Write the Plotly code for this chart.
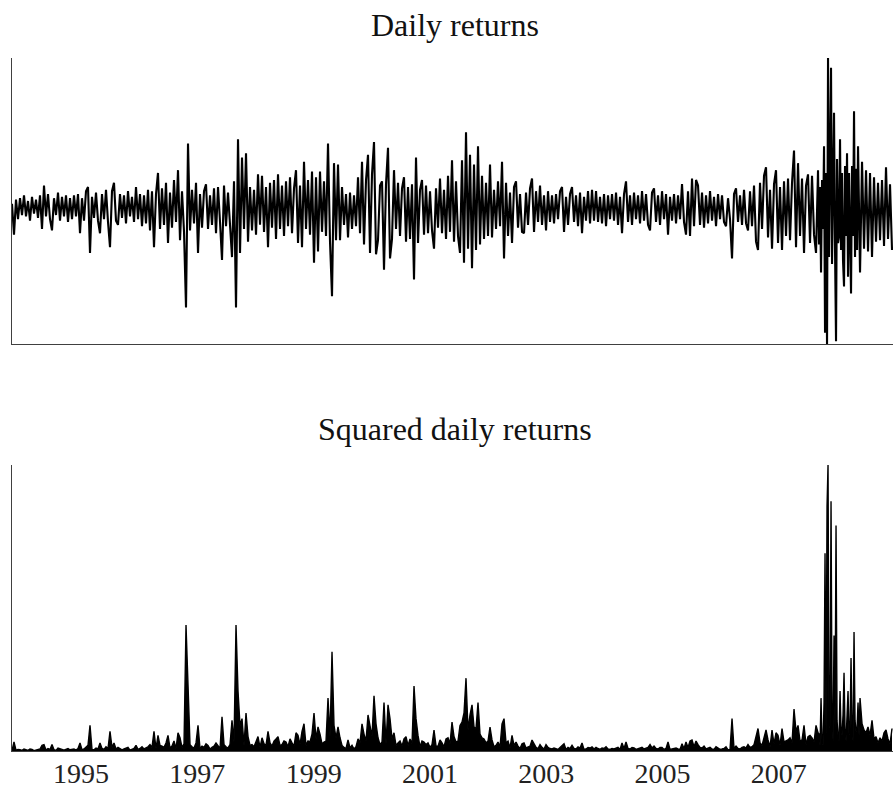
import numpy as np
import plotly.graph_objects as go

# Daily returns (%), in consecutive blocks along the time axis
returns_a = [0.3, -1.9, 0.6, -0.8, 0.7, -0.5, 0.9, -0.6, 0.5, -0.9, 0.8, -0.4, 0.6, -0.7, 0.9,
             -1.5, 1.6, -0.6, 1.0, -0.8, -1.6, 0.7, -0.5, 1.1, -0.9, 0.8, -0.6, 0.9, -1.0, 0.7]
returns_b = [-0.8, 0.9, -0.6, 1.0, -1.8, 0.7, -0.9, 1.2, 1.5, -3.2, 0.8, -0.7, 1.1, -0.9, -1.8,
             1.0, -0.8, 1.3, -1.0, -2.8, 1.2, 1.8, -0.9, -1.2, 1.0, -0.7, 0.9, -1.1, 1.2, -0.6]
returns_c = [0.8, -1.0, 1.5, -0.8, 1.0, -1.3, 0.9, -1.1, 1.3, -1.6, 1.2, -2.8, 1.0, 2.5, -1.5,
             1.4, -1.2, 1.8, -2.5, 1.1, -1.4, 2.0, -1.0, 2.7, -2.3, 1.2, -1.7, -7.1, 4.6, -1.6]
returns_d = [1.3, -1.1, 1.8, -3.2, 1.0, -1.4, 1.2, 1.7, -1.5, 0.9, -1.2, 1.4, -1.8, 1.5, -1.0,
             -3.7, 1.6, -1.3, 1.1, -1.6, -3.5, 1.9, -7.1, 4.9, -3.2, 3.6, -1.5, 3.9, -2.4, 1.5]
returns_e = [-1.6, 1.3, -1.9, 2.4, -1.2, 2.3, -1.7, 1.5, -2.8, 1.8, -1.4, 2.0, -2.2, 2.4, -1.5,
             1.6, -2.0, 1.9, -1.3, 2.2, -1.8, 1.4, 2.7, -2.5, 1.6, -2.8, 3.3, -1.5, 2.0, -1.9]
returns_f = [2.6, -3.9, 2.2, -3.1, 2.6, -1.7, 1.9, -2.0, 4.6, -2.4, -6.3, 3.2, -2.3, 3.1, -2.3,
             1.5, -1.2, 1.0, -2.1, 1.1, -1.5, 0.9, -1.3, 2.2, -1.8, 3.3, -2.6, 2.0, 3.8, -3.2]
returns_g = [2.4, 4.7, -3.3, -2.3, 1.6, 1.9, -4.4, 1.7, 4.3, -3.6, -2.2, 2.7, -1.5, 1.8, -2.0,
             1.4, 2.2, -2.4, 1.5, -2.2, 1.7, -5.1, 3.6, -2.5, 1.3, 2.0, -1.9, 1.6, -1.8, 1.2]
returns_h = [-1.6, -2.9, 1.4, -1.4, 2.1, -1.8, 1.3, -2.2, 2.3, -1.7, 3.4, -2.4, 1.9, -2.0, -3.2,
             3.4, -3.9, 5.4, -2.9, 3.8, -4.3, 3.1, -3.0, 4.4, -2.6, 2.3, -2.2, 1.8, -2.0, 3.1]
returns_i = [-2.1, 1.3, -1.5, 1.9, -1.3, 3.3, -3.6, 1.8, -2.0, 1.1, -2.5, 1.5, 1.9, -1.4, 1.0,
             -1.7, -1.8, 1.1, -1.2, 1.4, 2.1, -1.7, 1.2, -1.0, 1.6, -1.2, 0.9, -1.6, 1.2, -1.0]
returns_j = [0.9, -1.1, 1.0, -0.8, 1.2, 1.5, -1.7, 0.8, -1.2, 1.0, 1.5, -1.0, 0.9, -1.3, 1.1,
             -1.8, 0.8, -0.9, 1.2, -1.1, 1.3, -0.9, 1.2, -1.0, 0.8, -1.1, 1.0, -1.3, 0.9, -0.8]
returns_k = [1.0, -0.9, 1.1, -1.2, 0.8, -1.8, 1.0, 1.9, -1.0, 0.9, -1.2, 1.1, -0.8, 0.9, -1.1,
             1.2, -0.9, 1.0, -1.2, -1.6, 1.1, 1.4, -1.0, 0.9, -1.2, 1.2, -0.8, 1.0, -1.9, 0.8]
returns_l = [-0.9, 1.0, -1.1, 0.9, -0.8, 1.7, -1.0, -1.9, 1.2, -2.0, 2.1, -1.3, 2.0, 1.6, -1.2,
             1.1, -1.4, 0.9, -1.1, 1.2, -0.9, 0.8, -1.3, 1.0, -0.8, 0.9, -1.0, -1.3, 0.7, -0.8]
returns_m = [-3.6, 1.0, 1.4, -1.0, 0.9, -1.2, 1.3, -1.1, -1.6, 1.2, -1.3, 1.6, -2.4, -3.0, 1.8,
             -1.5, 2.3, 2.9, -2.1, 1.3, -2.9, 1.7, 2.7, -2.5, 1.5, -3.0, 1.9, -2.0, 2.1, -2.3]
returns_n = [1.8, 4.1, -2.8, 3.2, -2.0, 2.1, -3.2, 1.6, 2.4, -2.5, 2.3, -1.9, -3.2, 2.7]
# the 2008 crash, sampled more finely
returns_crash = [-2.6, 1.5, -4.6, 2.0, -1.5, 4.4, -8.9, 2.5, -9.9, 10.7, -3.5, 3.0, 10.0, -4.0,
                 2.0, 6.8, -3.0, -9.5, 3.5, -2.5, -2.0, 4.9, -3.0, 2.5, -3.8, -5.6, 3.0, -2.0,
                 3.9, -4.9, 2.5, -3.0, -6.1, 3.0, -2.0, 6.9, -3.5, 2.8, -3.0, 4.4, -2.5, -4.6]
returns_o = [3.3, -2.9, 2.7, -3.1, 2.5, -3.5, 2.2, -2.4, 1.8, -2.3, 2.0, -2.7, 2.9, -2.2, 1.7, -3.0]

tick_years = [1995, 1997, 1999, 2001, 2003, 2005, 2007]
# decimal-year spans of the three sampling blocks
span_regular = (1993.813, 2007.6737)
span_crash = (2007.6909, 2008.3960)
span_tail = (2008.4304, 2008.946)
axis_range = [1993.813, 2008.963]

regular = (returns_a + returns_b + returns_c + returns_d + returns_e + returns_f + returns_g +
           returns_h + returns_i + returns_j + returns_k + returns_l + returns_m + returns_n)
returns = np.array(regular + returns_crash + returns_o)
days = np.concatenate([
    np.linspace(*span_regular, len(regular)),
    np.linspace(*span_crash, len(returns_crash)),
    np.linspace(*span_tail, len(returns_o)),
])
squared = returns ** 2

FONT = "Liberation Serif"
AXIS_COLOR = "#404040"

fig = go.Figure()
fig.add_trace(go.Scatter(x=days, y=returns, mode="lines", xaxis="x", yaxis="y",
                         line=dict(color="black", width=2.1), showlegend=False))
fig.add_trace(go.Scatter(x=days, y=squared, mode="lines", xaxis="x2", yaxis="y2",
                         fill="tozeroy", fillcolor="black",
                         line=dict(color="black", width=1.4), showlegend=False))

top_h = 286
gap = 121
total = top_h * 2 + gap
axis_common = dict(showgrid=False, zeroline=False, showline=True, linecolor=AXIS_COLOR,
                   linewidth=1.3, ticks="", automargin=False)
fig.update_layout(
    template="none",
    width=893, height=788,
    margin=dict(l=12, r=0, t=58, b=37),
    paper_bgcolor="white", plot_bgcolor="white",
    xaxis=dict(domain=[0, 1], range=axis_range, showticklabels=False, anchor="y", **axis_common),
    yaxis=dict(domain=[(top_h + gap) / total, 1], range=[-9.7, 10.7], showticklabels=False,
               anchor="x", **axis_common),
    xaxis2=dict(domain=[0, 1], range=axis_range, tickvals=tick_years,
                ticktext=[str(y) for y in tick_years], ticklabelstandoff=-3,
                tickfont=dict(family=FONT, size=28, color="#222222"), anchor="y2", **axis_common),
    yaxis2=dict(domain=[0, top_h / total], range=[0, max(squared)], showticklabels=False,
                anchor="x2", **axis_common),
    annotations=[
        dict(text="Daily returns", xref="paper", yref="paper", x=0.5034,
             y=(total + 58 - 25) / total, xanchor="center", yanchor="middle",
             showarrow=False, font=dict(family=FONT, size=32, color="#111111")),
        dict(text="Squared daily returns", xref="paper", yref="paper", x=0.5034,
             y=(751 - 429) / total, xanchor="center", yanchor="middle",
             showarrow=False, font=dict(family=FONT, size=32, color="#111111")),
    ],
)

fig.write_html("out.html", config={"displayModeBar": False},
               post_script="document.body.style.margin='0';document.body.style.overflow='hidden';")
